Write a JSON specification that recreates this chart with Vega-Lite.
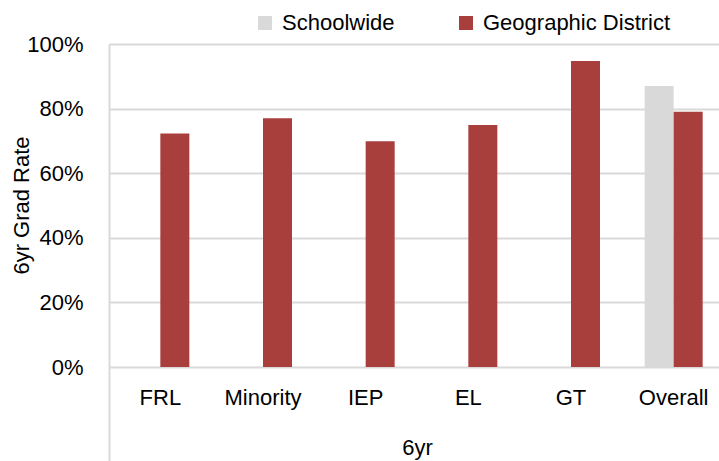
{
  "$schema": "https://vega.github.io/schema/vega-lite/v6.json",
  "autosize": {"type": "none"},
  "padding": {"left": 109, "top": 44, "right": 0, "bottom": 0},
  "width": 610,
  "height": 417,
  "background": "white",
  "config": {
    "font": "Liberation Sans",
    "view": {"stroke": null}
  },
  "data": {
    "values": [
      {"group": "FRL", "series": "Geographic District", "rate": 72.3},
      {"group": "Minority", "series": "Geographic District", "rate": 77.0},
      {"group": "IEP", "series": "Geographic District", "rate": 69.9},
      {"group": "EL", "series": "Geographic District", "rate": 74.9},
      {"group": "GT", "series": "Geographic District", "rate": 94.7},
      {"group": "Overall", "series": "Schoolwide", "rate": 87.0},
      {"group": "Overall", "series": "Geographic District", "rate": 79.0}
    ]
  },
  "mark": {"type": "bar"},
  "encoding": {
    "x": {
      "field": "group",
      "type": "nominal",
      "sort": ["FRL", "Minority", "IEP", "EL", "GT", "Overall"],
      "scale": {"range": [0, 616], "paddingInner": 0.435, "paddingOuter": 0.2175},
      "axis": {
        "title": "6yr",
        "orient": "bottom",
        "offset": -94,
        "domain": false,
        "ticks": false,
        "labelAngle": 0,
        "labelFontSize": 22,
        "labelColor": "#000000",
        "labelPadding": 20,
        "titleFontSize": 22,
        "titleFontWeight": "normal",
        "titleColor": "#000000",
        "titlePadding": 29
      }
    },
    "xOffset": {
      "field": "series",
      "type": "nominal",
      "sort": ["Schoolwide", "Geographic District"],
      "scale": {"domain": ["Schoolwide", "Geographic District"], "paddingInner": 0, "paddingOuter": 0}
    },
    "y": {
      "field": "rate",
      "type": "quantitative",
      "scale": {"domain": [-29.1, 100], "nice": false, "zero": false},
      "axis": {
        "title": "6yr Grad Rate",
        "values": [0, 20, 40, 60, 80, 100],
        "labelExpr": "datum.value + '%'",
        "grid": true,
        "gridColor": "#d9d9d9",
        "gridWidth": 2,
        "domain": true,
        "domainColor": "#d9d9d9",
        "domainWidth": 2,
        "ticks": false,
        "labelFontSize": 22,
        "labelColor": "#000000",
        "labelPadding": 26,
        "titleFontSize": 22,
        "titleFontWeight": "normal",
        "titleColor": "#000000",
        "titleBaseline": "middle",
        "titleX": -88,
        "titleY": 161,
        "titleAnchor": null
      }
    },
    "y2": {"datum": 0},
    "color": {
      "field": "series",
      "type": "nominal",
      "scale": {"domain": ["Schoolwide", "Geographic District"], "range": ["#d9d9d9", "#a93f3c"]},
      "legend": {
        "title": null,
        "orient": "none",
        "direction": "horizontal",
        "legendX": 145,
        "legendY": -32,
        "symbolType": "square",
        "symbolSize": 196,
        "symbolStrokeWidth": 0,
        "labelFontSize": 22,
        "labelLimit": 0,
        "labelColor": "#000000",
        "labelOffset": 6,
        "columnPadding": 60
      }
    }
  }
}
